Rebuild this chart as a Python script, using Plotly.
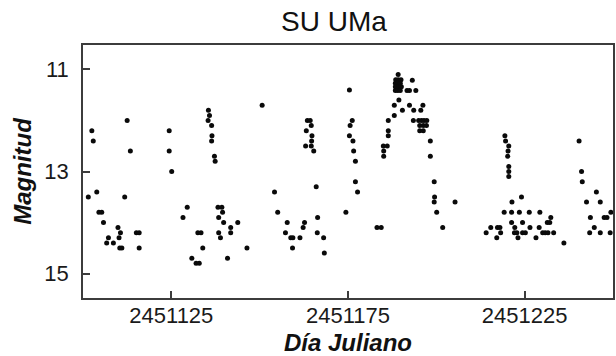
import plotly.graph_objects as go

# Visual estimates of SU UMa, 1998-1999 (Julian date, visual magnitude)
jd = [
    2451101.5, 2451102.5, 2451102.9, 2451103.9, 2451104.5, 2451105.3, 2451105.8,
    2451107.2, 2451106.7, 2451108.6, 2451109.9, 2451110.6, 2451110.2, 2451110.4,
    2451111.0, 2451111.8, 2451112.5, 2451113.4, 2451115.1, 2451115.9, 2451115.9,
    2451124.4, 2451124.4, 2451125.1, 2451128.3, 2451129.5, 2451130.8, 2451132.0,
    2451132.9, 2451132.5, 2451133.4, 2451133.9, 2451135.5, 2451135.8, 2451135.4,
    2451136.4, 2451136.5, 2451136.4, 2451137.2, 2451137.4, 2451138.2, 2451139.3,
    2451139.5, 2451138.4, 2451139.8, 2451138.4, 2451138.9, 2451140.9, 2451141.8,
    2451141.8, 2451143.8, 2451146.4,
    2451150.7, 2451154.2, 2451155.1, 2451157.8, 2451157.3, 2451158.8, 2451159.4,
    2451159.3, 2451161.4, 2451162.3, 2451162.7, 2451163.0, 2451163.2, 2451163.5,
    2451164.3, 2451164.6, 2451164.8, 2451164.7, 2451164.6, 2451165.3, 2451166.0,
    2451166.4, 2451166.3, 2451168.1, 2451168.3,
    2451174.4, 2451175.4, 2451176.2, 2451175.6, 2451175.4, 2451176.4, 2451176.6,
    2451177.1, 2451177.1, 2451177.7, 2451183.2, 2451184.4,
    2451185.0, 2451185.1, 2451185.1, 2451186.1, 2451186.4, 2451186.4, 2451186.4,
    2451188.1, 2451188.1, 2451189.4, 2451190.4,
    2451189.2, 2451188.5, 2451189.2, 2451190.0, 2451188.4, 2451189.1, 2451189.8,
    2451188.4, 2451189.3, 2451190.1, 2451188.4, 2451189.1, 2451189.8, 2451193.2,
    2451191.7, 2451192.4, 2451194.2,
    2451192.4, 2451193.6, 2451196.2, 2451195.6, 2451193.5, 2451195.0, 2451195.8,
    2451196.5, 2451197.3, 2451195.3, 2451196.3, 2451197.2, 2451195.3, 2451196.3,
    2451198.3, 2451198.3, 2451199.4, 2451199.5, 2451199.4, 2451200.1, 2451201.8,
    2451205.3,
    2451219.4, 2451219.6, 2451220.5, 2451220.3, 2451220.2, 2451220.5, 2451220.5,
    2451220.5, 2451224.1, 2451221.4,
    2451219.2, 2451221.3, 2451223.5, 2451226.3, 2451229.3, 2451232.4,
    2451221.3, 2451224.4, 2451231.4, 2451232.1,
    2451215.4, 2451217.3, 2451218.0, 2451222.2, 2451226.5, 2451229.1,
    2451214.1, 2451218.2, 2451222.1, 2451222.8, 2451224.4, 2451225.2, 2451230.1,
    2451230.8, 2451231.6, 2451233.2,
    2451217.1, 2451223.1, 2451228.2, 2451236.1,
    2451240.4, 2451241.1, 2451241.3, 2451245.3, 2451242.5, 2451246.4, 2451243.6,
    2451247.5, 2451248.3, 2451249.4, 2451244.7, 2451243.4, 2451246.4, 2451249.2,
]

magnitude = [
    13.5, 12.2, 12.4, 13.4, 13.8, 13.8, 14.0,
    14.3, 14.4, 14.4, 14.1, 14.2, 14.3, 14.5,
    14.5, 13.5, 12.0, 12.6, 14.2, 14.2, 14.5,
    12.2, 12.6, 13.0, 13.9, 13.7, 14.7, 14.8,
    14.8, 14.2, 14.2, 14.5, 11.8, 11.9, 12.0,
    12.1, 12.3, 12.4, 12.7, 12.8, 13.7, 13.7,
    13.8, 13.9, 14.0, 14.2, 14.3, 14.7, 14.1,
    14.2, 14.0, 14.5,
    11.7, 13.4, 13.8, 14.0, 14.2, 14.3, 14.3,
    14.5, 14.3, 14.1, 14.0, 12.5, 12.2, 12.0,
    12.0, 12.1, 12.3, 12.4, 12.5, 12.6, 13.3,
    13.9, 14.2, 14.3, 14.6,
    13.8, 11.4, 12.0, 12.1, 12.3, 12.4, 12.6,
    12.8, 13.2, 13.4, 14.1, 14.1,
    12.5, 12.6, 12.7, 12.5, 12.3, 12.2, 12.0,
    11.9, 11.7, 11.6, 11.8,
    11.1, 11.2, 11.2, 11.2, 11.27, 11.27, 11.27,
    11.34, 11.34, 11.34, 11.41, 11.41, 11.41, 11.21,
    11.41, 11.41, 11.41,
    11.7, 11.8, 11.7, 11.8, 12.0, 12.0, 12.0,
    12.0, 12.0, 12.1, 12.1, 12.1, 12.2, 12.2,
    12.4, 12.7, 13.2, 13.5, 13.6, 13.8, 14.1,
    13.6,
    12.3, 12.4, 12.5, 12.6, 12.7, 12.9, 13.0,
    13.1, 13.5, 13.6,
    13.8, 13.8, 13.8, 13.8, 13.8, 13.9,
    14.0, 14.0, 14.0, 14.0,
    14.1, 14.1, 14.1, 14.1, 14.1, 14.1,
    14.2, 14.2, 14.2, 14.2, 14.2, 14.2, 14.2,
    14.2, 14.2, 14.2,
    14.3, 14.3, 14.3, 14.4,
    12.4, 13.0, 13.2, 13.4, 13.6, 13.6, 13.9,
    13.9, 13.9, 13.8, 14.1, 14.2, 14.2, 14.2,
]

x_ticks = [2451125, 2451175, 2451225]
y_ticks = [11, 13, 15]
x_range = [2451100, 2451250]
y_range = [15.48, 10.52]

FONT = "Liberation Sans, Arial, Helvetica, sans-serif"
LINE = "#3c3c3c"

fig = go.Figure(
    go.Scatter(
        x=jd,
        y=magnitude,
        mode="markers",
        marker=dict(size=5, color="#0a0a0a", line=dict(width=0)),
        cliponaxis=False,
        hoverinfo="x+y",
    )
)

axis_common = dict(
    showgrid=False,
    zeroline=False,
    showline=True,
    mirror=True,
    linecolor=LINE,
    linewidth=1.5,
    ticks="inside",
    ticklen=7,
    tickwidth=1.5,
    tickcolor=LINE,
    tickfont=dict(family=FONT, size=22, color="#1a1a1a"),
)

fig.update_xaxes(
    range=x_range,
    tickmode="array",
    tickvals=x_ticks,
    ticktext=[str(v) for v in x_ticks],
    ticklabelstandoff=-3,
    title=dict(
        text="<b><i>Día Juliano</i></b>",
        font=dict(family=FONT, size=24, color="#111"),
        standoff=9,
    ),
    **axis_common,
)
fig.update_yaxes(
    range=y_range,
    tickmode="array",
    tickvals=y_ticks,
    ticktext=[str(v) for v in y_ticks],
    ticklabelstandoff=8,
    title=dict(
        text="<b><i>Magnitud</i></b>",
        font=dict(family=FONT, size=24, color="#111"),
        standoff=6,
    ),
    **axis_common,
)

fig.update_layout(
    width=616,
    height=356,
    margin=dict(l=83, r=1, t=45, b=58),
    paper_bgcolor="white",
    plot_bgcolor="white",
    showlegend=False,
    title=dict(
        text="SU UMa",
        font=dict(family=FONT, size=28, color="#111"),
        x=334 / 616,
        xanchor="center",
        xref="container",
        y=1 - 21 / 356,
        yref="container",
        yanchor="middle",
    ),
)

fig.write_html("out.html")
